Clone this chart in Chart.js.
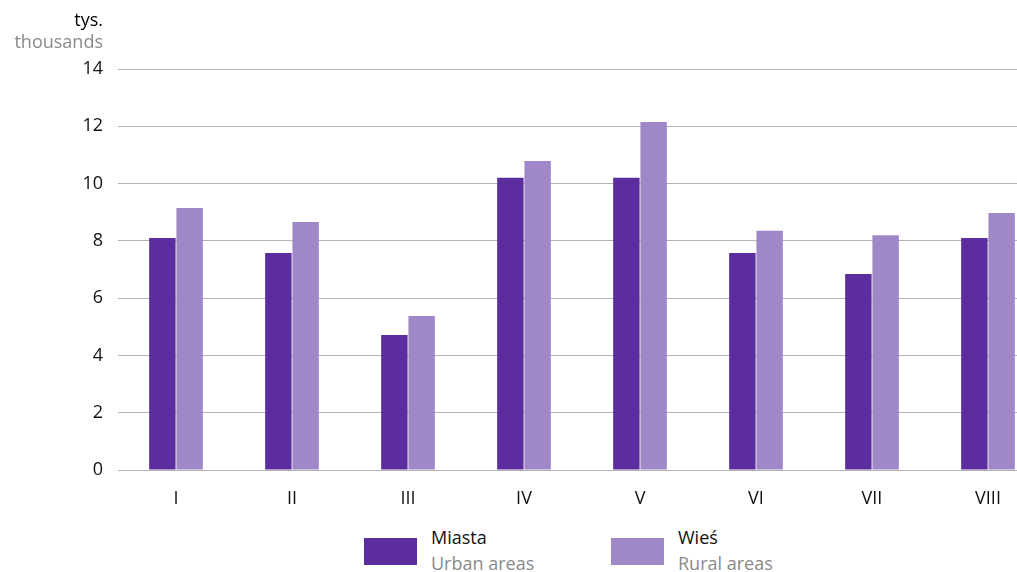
<!DOCTYPE html>
<html lang="en">
  <head>
    <meta charset="UTF-8" />
    <title>Miasta / Wieś</title>
    <style>
      body {
        margin: 0;
        padding: 0;
        overflow: hidden;
        background: #fff;
        font-family: 'Open Sans', sans-serif;
      }

      .wrap {
        position: relative;
        width: 1017px;
        height: 572px;
        overflow: hidden;
      }

      .chart {
        position: absolute;
        left: 0;
        top: 0;
        width: 1046px;
        height: 510px;
      }

      .unit {
        position: absolute;
        right: 914px;
        top: 8px;
        text-align: right;
        font-size: 18px;
        line-height: 22px;
      }

      .grey {
        color: #8a8a8a;
      }

      .legend {
        position: absolute;
        top: 524px;
        display: flex;
      }

      .legend .box {
        width: 53px;
        height: 27px;
        margin-top: 14px;
        margin-right: 14px;
      }

      .legend .txt {
        font-size: 18px;
        line-height: 26px;
        color: #111;
      }
    </style>
  </head>
  <body>
    <div class="wrap">
      <div class="chart"><canvas id="myChart" width="1046" height="510"></canvas></div>

      <div class="unit">tys.<br /><span class="grey">thousands</span></div>

      <div class="legend" style="left: 364px">
        <div class="box" style="background: #5c2d9e"></div>
        <div class="txt">Miasta<br /><span class="grey">Urban areas</span></div>
      </div>
      <div class="legend" style="left: 611px">
        <div class="box" style="background: #a088c8"></div>
        <div class="txt">Wieś<br /><span class="grey">Rural areas</span></div>
      </div>
    </div>

    <script src="https://cdn.jsdelivr.net/npm/chart.js"></script>
    <script>
      const months = ['I', 'II', 'III', 'IV', 'V', 'VI', 'VII', 'VIII'];
      const urban = [8.1, 7.58, 4.71, 10.2, 10.2, 7.58, 6.84, 8.1];
      const rural = [9.15, 8.66, 5.38, 10.79, 12.15, 8.35, 8.2, 8.97];
      const yTicks = [0, 2, 4, 6, 8, 10, 12, 14];

      const ctx = document.getElementById('myChart');

      new Chart(ctx, {
        type: 'bar',
        data: {
          labels: months,
          datasets: [
            { label: 'Miasta', data: urban, backgroundColor: '#5c2d9e' },
            { label: 'Wieś', data: rural, backgroundColor: '#a088c8' },
          ],
        },
        options: {
          responsive: false,
          animation: false,
          categoryPercentage: 0.47,
          barPercentage: 0.97,
          layout: { padding: { top: 69, right: 0, left: 0, bottom: 0 } },
          plugins: {
            legend: { display: false },
            tooltip: { enabled: false },
          },
          scales: {
            x: {
              grid: { display: false },
              border: { display: false },
              ticks: {
                color: '#111',
                font: { family: 'Open Sans', size: 18 },
                padding: 10,
              },
              afterFit: (scale) => {
                scale.height = 40;
              },
            },
            y: {
              min: 0,
              max: 14,
              afterBuildTicks: (scale) => {
                scale.ticks = yTicks.map((v) => ({ value: v }));
              },
              grid: { color: '#b4b4b4', lineWidth: 1, drawTicks: false },
              border: { display: false },
              ticks: {
                color: '#111',
                font: { family: 'Open Sans', size: 18 },
                padding: 15,
              },
              afterFit: (scale) => {
                scale.width = 118;
              },
            },
          },
        },
      });
    </script>
  </body>
</html>
